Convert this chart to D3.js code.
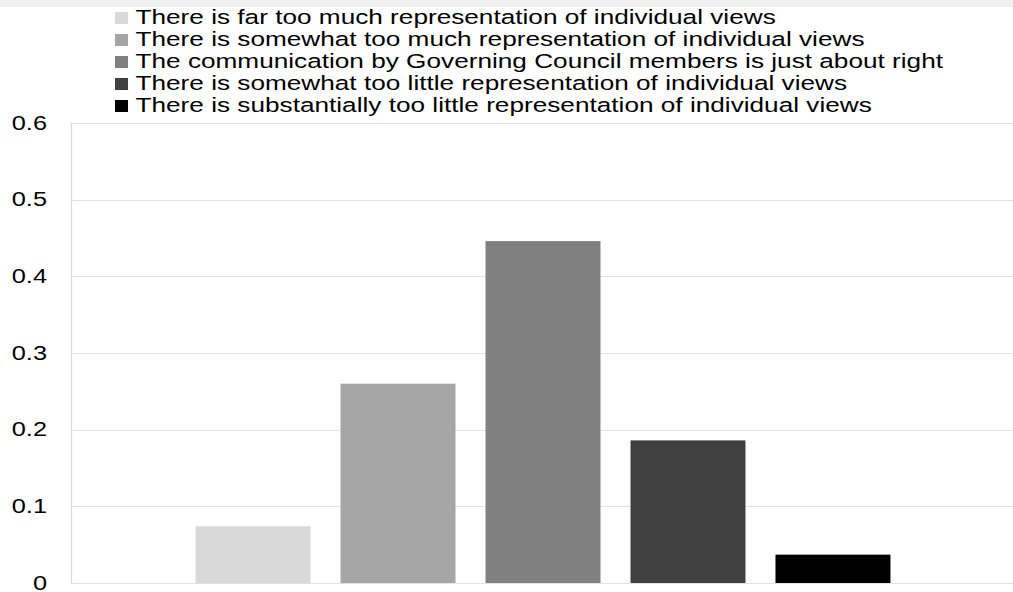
<!DOCTYPE html>
<html>
<head>
<meta charset="utf-8">
<script src="https://cdn.jsdelivr.net/npm/d3@7"></script>
<style>
  html, body { margin: 0; padding: 0; background: #fff; }
  svg { display: block; font-family: "Liberation Sans", Arial, sans-serif; }
</style>
</head>
<body>
<svg id="chart" width="1013" height="592"></svg>
<script>
// Survey responses on how Governing Council members communicate individual views
const categories = [
  "There is far too much representation of individual views",
  "There is somewhat too much representation of individual views",
  "The communication by Governing Council members is just about right",
  "There is somewhat too little representation of individual views",
  "There is substantially too little representation of individual views"
];
const shares = [0.074, 0.26, 0.446, 0.186, 0.037];
const colors = ["#d9d9d9", "#a6a6a6", "#808080", "#404040", "#000000"];
const yTicks = [0, 0.1, 0.2, 0.3, 0.4, 0.5, 0.6];
const yTickLabels = ["0", "0.1", "0.2", "0.3", "0.4", "0.5", "0.6"];

const W = 1013, H = 592;
const plot = { left: 71, right: 1015, top: 123, bottom: 583 };
const axisStretch = 1.3;    // wide lettering on the value axis
const legendStretch = 1.343; // wide lettering in the legend

const svg = d3.select("#chart");

// thin grey strip along the top edge
svg.append("rect")
  .attr("x", 0).attr("y", 0)
  .attr("width", W).attr("height", 7)
  .attr("fill", "#f0f0f0");

const x = d3.scaleBand()
  .domain(categories)
  .range([plot.left, plot.right])
  .paddingInner(0.207)
  .paddingOuter(0.859);

const y = d3.scaleLinear()
  .domain([0, 0.6])
  .range([plot.bottom, plot.top]);

// horizontal gridlines
svg.append("g")
  .selectAll("line")
  .data(yTicks)
  .join("line")
  .attr("x1", plot.left)
  .attr("x2", W)
  .attr("y1", d => Math.round(y(d)) + 0.5)
  .attr("y2", d => Math.round(y(d)) + 0.5)
  .attr("stroke", "#e2e2e2")
  .attr("stroke-width", 1.2);

// left axis line
svg.append("line")
  .attr("x1", plot.left + 0.5).attr("x2", plot.left + 0.5)
  .attr("y1", y(0.6)).attr("y2", y(0) + 1)
  .attr("stroke", "#d9d9d9")
  .attr("stroke-width", 1.2);

// y tick labels
const yAxis = d3.axisLeft(y)
  .tickValues(yTicks)
  .tickFormat((d, i) => yTickLabels[i])
  .tickSize(0)
  .tickPadding(0);

const yg = svg.append("g")
  .attr("transform", `translate(47,0) scale(${axisStretch},1)`)
  .call(yAxis);
yg.select(".domain").remove();
yg.selectAll("text")
  .attr("font-family", "\"Liberation Sans\", Arial, sans-serif")
  .attr("font-size", 19.5)
  .attr("fill", "#000")
  .attr("dy", "0.32em");

// bars
svg.append("g")
  .selectAll("rect")
  .data(categories)
  .join("rect")
  .attr("x", d => x(d))
  .attr("width", x.bandwidth())
  .attr("y", (d, i) => y(shares[i]))
  .attr("height", (d, i) => y(0) - y(shares[i]))
  .attr("fill", (d, i) => colors[i]);

// legend
const legend = svg.append("g").attr("transform", "translate(115,0)");
const rows = legend.selectAll("g")
  .data(categories)
  .join("g")
  .attr("transform", (d, i) => `translate(0,${24 + i * 22})`);

rows.append("rect")
  .attr("x", 0).attr("y", -12)
  .attr("width", 13).attr("height", 12)
  .attr("fill", (d, i) => colors[i]);

rows.append("text")
  .attr("transform", `translate(20.5,0) scale(${legendStretch},1)`)
  .attr("font-size", 19.5)
  .attr("fill", "#000")
  .text(d => d);
</script>
</body>
</html>
